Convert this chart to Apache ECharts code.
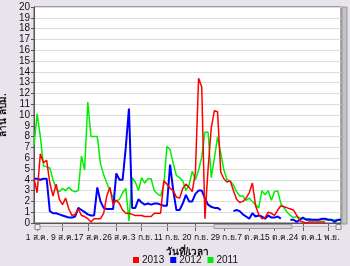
<!DOCTYPE html>
<html><head><meta charset="utf-8">
<script src="https://cdn.jsdelivr.net/npm/echarts@6/dist/echarts.min.js"></script>
<style>html,body{margin:0;padding:0;background:#e9e3eb;}#c{width:350px;height:266px;}</style>
</head><body><div id="c"></div>
<script>
// x categories: daily from 31 Jul to 5 Nov
const thaiMonths = ['ม.ค.','ก.พ.','มี.ค.','เม.ย.','พ.ค.','มิ.ย.','ก.ค.','ส.ค.','ก.ย.','ต.ค.','พ.ย.','ธ.ค.'];
const startDay = Date.UTC(2013, 6, 31);
const dayCount = 98;
const categories = [];
for (let i = 0; i < dayCount; i++) {
  const d = new Date(startDay + i * 86400000);
  categories.push(d.getUTCDate() + ' ' + thaiMonths[d.getUTCMonth()]);
}
const tickLabels = ['1 ส.ค.','9 ส.ค.','17 ส.ค.','26 ส.ค.','3 ก.ย.','11 ก.ย.','20 ก.ย.','29 ก.ย.','7 ต.ค.','15 ต.ค.','24 ต.ค.','1 พ.ย.'];
const tickIndex = [1, 9, 17, 26, 34, 42, 51, 60, 68, 76, 85, 93];

const seriesNames = ['2013', '2012', '2011'];

const data2013 = [4.1,2.8,6.4,5.6,5.8,3.7,2.5,3.6,2.2,1.7,
  2.3,1.3,0.7,0.8,1.3,0.7,0.6,0.4,0.1,0.4,
  0.4,0.4,0.9,2.5,3.3,1.7,2.1,1.8,1.2,0.9,
  0.9,0.8,0.7,0.7,0.7,0.6,0.6,0.6,0.9,0.9,
  0.9,3.9,3.6,3.2,3.0,2.4,2.3,3.2,3.6,3.3,
  2.9,4.7,13.4,12.6,0.4,5.0,8.8,10.4,10.3,4.7,
  4.1,3.8,3.9,3.0,2.2,1.9,2.0,2.3,2.8,3.7,
  1.6,0.8,0.4,0.5,1.0,0.9,0.7,1.2,1.6,1.5,
  1.4,1.3,1.2,0.7,0.2,0.1,0.0,0.1,0.1,0.1,
  0.1,0.1,0.1,null,null,null,null,null];

const data2012 = [4.1,4.1,4.0,4.1,4.1,1.1,0.9,0.9,0.8,0.7,
  0.6,0.5,0.5,0.6,1.4,1.2,1.0,0.8,0.7,0.7,
  3.3,2.0,1.4,1.3,1.3,1.3,4.6,4.0,4.0,7.0,
  10.6,1.4,1.4,2.2,1.9,1.7,1.8,1.7,1.8,1.8,
  1.7,1.6,1.6,5.4,3.0,1.2,1.2,1.8,2.6,2.0,
  2.0,2.7,3.0,3.0,2.3,1.7,1.5,1.4,1.4,1.2,
  null,null,null,1.1,1.2,1.1,0.8,0.6,0.4,0.9,
  0.6,0.7,0.6,0.4,0.7,0.5,0.5,0.6,0.4,null,
  null,0.3,0.3,0.1,0.3,0.5,0.3,0.3,0.3,0.3,
  0.3,0.4,0.4,0.3,0.3,0.1,0.3,0.3];

const data2011 = [7.2,10.1,8.0,5.3,5.2,5.1,4.0,3.2,2.9,3.2,
  3.0,3.3,3.0,2.9,3.0,6.2,4.9,11.2,8.0,8.0,
  8.0,5.5,4.5,3.7,3.0,2.4,2.0,2.2,2.8,3.2,
  0.2,4.2,3.8,3.0,4.2,3.7,4.1,4.1,3.0,2.7,
  2.5,3.5,7.1,6.8,5.5,4.4,4.2,3.9,3.0,3.5,
  4.8,4.0,4.9,6.1,8.4,8.4,4.2,6.0,8.0,6.5,
  4.9,4.0,3.9,3.5,2.9,2.5,2.5,2.1,2.3,2.0,
  1.7,1.4,3.0,2.6,3.0,2.1,2.9,3.0,1.8,1.4,
  1.0,0.7,0.5,0.6,0.5,0.4,0.4,0.4,0.3,0.3,
  0.3,0.3,0.3,0.3,0.3,0.3,0.3,0.2];

const yTicks = {min: 0, max: 20, step: 1};

const showAt = (idx) => tickIndex.indexOf(idx) >= 0;
const labelFor = (val, idx) => {
  const k = tickIndex.indexOf(idx);
  return k >= 0 ? tickLabels[k] : '';
};

const FONT = '"Liberation Sans", Arial, sans-serif';
const chart = echarts.init(document.getElementById('c'), null, {renderer: 'canvas'});
chart.setOption({
  animation: false,
  backgroundColor: '#e9e3eb',
  textStyle: {fontFamily: FONT},
  grid: {left: 34, right: 9, top: 7, bottom: 43, containLabel: false, outerBoundsMode: 'none',
         show: true, backgroundColor: '#ffffff', borderColor: '#555', borderWidth: 1},
  legend: {
    top: 250, left: 128, icon: 'rect', itemWidth: 6, itemHeight: 6, itemGap: 6,
    textStyle: {fontSize: 10, color: '#111', fontFamily: FONT, padding: [0, 0, 0, -2]},
    data: seriesNames
  },
  xAxis: {
    type: 'category', data: categories, boundaryGap: false,
    name: 'วันที่/เวลา', nameLocation: 'middle', nameGap: 16,
    nameTextStyle: {fontSize: 10, fontWeight: 'bold', color: '#111', fontFamily: FONT},
    axisLine: {show: true, onZero: false, lineStyle: {color: '#555'}},
    axisTick: {show: true, interval: showAt, length: 8, lineStyle: {color: '#666'}},
    axisLabel: {interval: 0, formatter: labelFor, fontSize: 8.5, color: '#111', margin: 10,
                fontFamily: FONT, hideOverlap: false},
    splitLine: {show: false}
  },
  yAxis: {
    type: 'value', min: yTicks.min, max: yTicks.max, interval: yTicks.step,
    name: 'ล้าน ลบม.', nameLocation: 'middle', nameGap: 21,
    nameTextStyle: {fontSize: 10, fontWeight: 'bold', color: '#111', fontFamily: FONT},
    axisLine: {show: true, lineStyle: {color: '#555'}},
    axisTick: {show: true, length: 3, lineStyle: {color: '#555'}},
    axisLabel: {fontSize: 10, color: '#111', margin: 4, fontFamily: FONT},
    splitLine: {lineStyle: {color: '#dcdcdc', width: 1}}
  },
  series: [
    {name: seriesNames[0], type: 'line', data: data2013, z: 4, showSymbol: false, connectNulls: false,
     itemStyle: {color: '#ff0000'}, lineStyle: {color: '#ff0000', width: 1.5}},
    {name: seriesNames[1], type: 'line', data: data2012, z: 3, showSymbol: false, connectNulls: false,
     itemStyle: {color: '#0000ff'}, lineStyle: {color: '#0000ff', width: 2}},
    {name: seriesNames[2], type: 'line', data: data2011, z: 2, showSymbol: false, connectNulls: false,
     itemStyle: {color: '#00ee00'}, lineStyle: {color: '#00ee00', width: 1.5}}
  ],
  graphic: [
    {type: 'rect', z: 100, shape: {x: 342, y: 7, width: 5, height: 217}, style: {fill: '#c4c4c4', stroke: '#9a9a9a', lineWidth: 1}},
    {type: 'line', z: 100, shape: {x1: 34, y1: 226.5, x2: 341, y2: 226.5}, style: {stroke: '#bdbdbd', lineWidth: 1}},
    {type: 'rect', z: 101, shape: {x: 214, y: 224.5, width: 78, height: 4}, style: {fill: '#d6d6d6', stroke: '#9c9c9c', lineWidth: 1}},
    {type: 'rect', z: 101, shape: {x: 35, y: 224.5, width: 5, height: 5}, style: {fill: '#eeeeee', stroke: '#888', lineWidth: 1}},
    {type: 'rect', z: 101, shape: {x: 336, y: 224.5, width: 5, height: 5}, style: {fill: '#eeeeee', stroke: '#888', lineWidth: 1}}
  ]
});
</script></body></html>
